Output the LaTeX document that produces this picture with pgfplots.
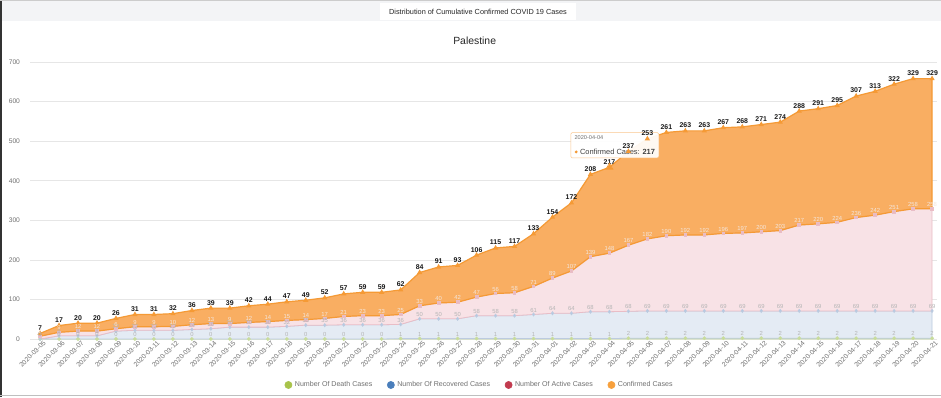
\documentclass[border=0pt]{standalone}
\usepackage{pgfplots}
\pgfplotsset{compat=1.18}
\usepackage{pgfplotstable}
\usepackage{fontspec}
\setmainfont{Liberation Sans}

\definecolor{orangeline}{HTML}{F59A35}
\definecolor{orangefill}{HTML}{F9AE62}
\definecolor{pinkline}{HTML}{E9BDC6}
\definecolor{pinkfill}{HTML}{F8E2E6}
\definecolor{blueline}{HTML}{BCCBE0}
\definecolor{bluefill}{HTML}{E4EBF4}
\definecolor{greenline}{HTML}{C8DDA0}
\definecolor{greenfill}{HTML}{EAF2DC}
\definecolor{legendgreen}{HTML}{A8C34A}
\definecolor{legendblue}{HTML}{4A7EBB}
\definecolor{legendred}{HTML}{C23B4F}
\definecolor{legendorange}{HTML}{F7A03C}
\definecolor{gridgray}{HTML}{E6E6E6}
\definecolor{tickgray}{HTML}{707070}
\definecolor{headergray}{HTML}{F3F4F6}
\definecolor{labelgray}{HTML}{B5B5B5}
\definecolor{activelabel}{HTML}{F4E6DC}

\pgfplotstableread{
x date c r d
0 2020-03-05 7 0 0
1 2020-03-06 17 8 0
2 2020-03-07 20 8 0
3 2020-03-08 20 8 0
4 2020-03-09 26 20 0
5 2020-03-10 31 22 0
6 2020-03-11 31 22 0
7 2020-03-12 32 22 0
8 2020-03-13 36 24 0
9 2020-03-14 39 26 0
10 2020-03-15 39 30 0
11 2020-03-16 42 30 0
12 2020-03-17 44 30 0
13 2020-03-18 47 32 0
14 2020-03-19 49 35 0
15 2020-03-20 52 35 0
16 2020-03-21 57 36 0
17 2020-03-22 59 36 0
18 2020-03-23 59 36 0
19 2020-03-24 62 36 1
20 2020-03-25 84 50 1
21 2020-03-26 91 50 1
22 2020-03-27 93 50 1
23 2020-03-28 106 58 1
24 2020-03-29 115 58 1
25 2020-03-30 117 58 1
26 2020-03-31 133 61 1
27 2020-04-01 154 64 1
28 2020-04-02 172 64 1
29 2020-04-03 208 68 1
30 2020-04-04 217 68 1
31 2020-04-05 237 68 2
32 2020-04-06 253 69 2
33 2020-04-07 261 69 2
34 2020-04-08 263 69 2
35 2020-04-09 263 69 2
36 2020-04-10 267 69 2
37 2020-04-11 268 69 2
38 2020-04-12 271 69 2
39 2020-04-13 274 69 2
40 2020-04-14 288 69 2
41 2020-04-15 291 69 2
42 2020-04-16 295 69 2
43 2020-04-17 307 69 2
44 2020-04-18 313 69 2
45 2020-04-19 322 69 2
46 2020-04-20 329 69 2
47 2020-04-21 329 69 2
}\datatable

\begin{document}
\begin{tikzpicture}
\useasboundingbox (0,0) rectangle (705.75pt,297.75pt);
\fill[white] (0,0) rectangle (705.75pt,297.75pt);
\fill[headergray] (0,282pt) rectangle (705.75pt,297.75pt);
\fill[white] (285pt,282.75pt) rectangle (432pt,295.5pt);
\node[font=\fontsize{5.5}{6.5}\selectfont, text=black!85] at (358.5pt,288.9pt) {Distribution of Cumulative Confirmed COVID 19 Cases};
\node[font=\fontsize{7.8}{9}\selectfont, text=black!85] at (356pt,267.5pt) {Palestine};
\draw[black!80, line width=1.6pt] (0.8pt,0) -- (0.8pt,297.75pt);
\draw[gray!50, line width=0.8pt] (0,1.2pt) -- (705.75pt,1.2pt);
\draw[gray!40, line width=0.6pt] (0,297.4pt) -- (705.75pt,297.4pt);

\begin{axis}[
  /pgf/number format/assume math mode=true,
  at={(22.5pt,43.5pt)}, anchor=south west,
  scale only axis, width=680.25pt, height=207.75pt,
  xmin=-0.53, xmax=47.26, ymin=0, ymax=700,
  xtick={0,...,47},
  xticklabels from table={\datatable}{date},
  xticklabel style={rotate=45, anchor=north east, font=\fontsize{5}{6}\selectfont, text=tickgray, inner sep=1pt, xshift=2pt, yshift=-1pt},
  ytick={0,100,...,700},
  yticklabel style={font=\fontsize{5}{6}\selectfont, text=tickgray, xshift=-4pt},
  ymajorgrids, grid style={gridgray, line width=0.5pt},
  major tick length=0pt,
  axis line style={draw=none},
  clip=false,
  legend style={at={(0.496,-0.166)}, anchor=center, legend columns=4, draw=none, fill=none,
    font=\fontsize{5.3}{6}\selectfont, text=tickgray, inner sep=0pt,
    /tikz/every even column/.append style={column sep=9pt}},
  legend cell align=left,
]
% deaths
\addplot[stack plots=y, draw=greenline, line width=0.6pt, fill=greenfill,
  mark=*, mark size=1.1pt, mark options={draw=none, fill=legendgreen!60}, forget plot]
  table[x=x, y=d] {\datatable} \closedcycle;
% recovered
\addplot[stack plots=y, draw=blueline, line width=0.6pt, fill=bluefill,
  mark=diamond*, mark size=1.1pt, mark options={draw=none, fill=legendblue!45}, forget plot]
  table[x=x, y=r] {\datatable} \closedcycle;
% active
\addplot[stack plots=y, draw=pinkline, line width=0.6pt, fill=pinkfill,
  mark=square*, mark size=1pt, mark options={draw=none, fill=legendred!35}, forget plot]
  table[x=x, y expr=\thisrow{c}-\thisrow{r}-\thisrow{d}] {\datatable} \closedcycle;
% confirmed
\addplot[stack plots=y, draw=orangeline, line width=0.9pt, fill=orangefill,
  mark=triangle*, mark size=1.4pt, mark options={draw=none, fill=orangeline},
  point meta=explicit,
  nodes near coords, nodes near coords style={font=\bfseries\fontsize{5.2}{6}\selectfont, text=black!90, anchor=south, inner sep=1.8pt},
  forget plot]
  table[x=x, y=c, meta=c] {\datatable} \closedcycle;

% value labels of the lower series, drawn above all areas
\addplot[draw=none, mark=none, point meta=explicit, nodes near coords,
  nodes near coords style={font=\fontsize{4.4}{5}\selectfont, text=labelgray, anchor=south, inner sep=1.5pt}, forget plot]
  table[x=x, y=d, meta=d] {\datatable};
\addplot[draw=none, mark=none, point meta=explicit, nodes near coords,
  nodes near coords style={font=\fontsize{4.4}{5}\selectfont, text=labelgray, anchor=south, inner sep=1.5pt}, forget plot]
  table[x=x, y expr=\thisrow{r}+\thisrow{d}, meta=r] {\datatable};
\addplot[draw=none, mark=none, point meta={\thisrow{c}-\thisrow{r}-\thisrow{d}}, nodes near coords,
  nodes near coords style={font=\fontsize{4.4}{5}\selectfont, text=activelabel, anchor=south, inner sep=1.5pt}, forget plot]
  table[x=x, y=c] {\datatable};

% highlighted point of the tooltip (2 x 217 stacked)
\addplot[only marks, mark=triangle, mark size=3pt, mark options={draw=orangeline, fill=white, line width=0.6pt}, forget plot]
  coordinates {(30,434)};

\node[anchor=north west, draw=orangeline!55, fill=white, fill opacity=0.92, text opacity=1,
  rounded corners=1pt, inner sep=2.2pt, align=left, minimum width=66pt, minimum height=18.5pt]
  at (axis cs:27.95,522) {{\fontsize{4.2}{5}\selectfont\color{tickgray}2020-04-04}\\[-0.5pt]
  {\tikz[baseline=-2.2pt]\fill[orangeline] (0,0) circle (1.2pt);}\,{\fontsize{5.6}{6.5}\selectfont\color{black!75}Confirmed Cases: \textbf{217}}};

\addlegendimage{legend image code/.code={\fill[legendgreen] (0.2cm,0pt) circle (2.7pt);}}
\addlegendentry{Number Of Death Cases}
\addlegendimage{legend image code/.code={\fill[legendblue] (0.2cm,0pt) circle (2.7pt);}}
\addlegendentry{Number Of Recovered Cases}
\addlegendimage{legend image code/.code={\fill[legendred] (0.2cm,0pt) circle (2.7pt);}}
\addlegendentry{Number Of Active Cases}
\addlegendimage{legend image code/.code={\fill[legendorange] (0.2cm,0pt) circle (2.7pt);}}
\addlegendentry{Confirmed Cases}
\end{axis}
\end{tikzpicture}
\end{document}
